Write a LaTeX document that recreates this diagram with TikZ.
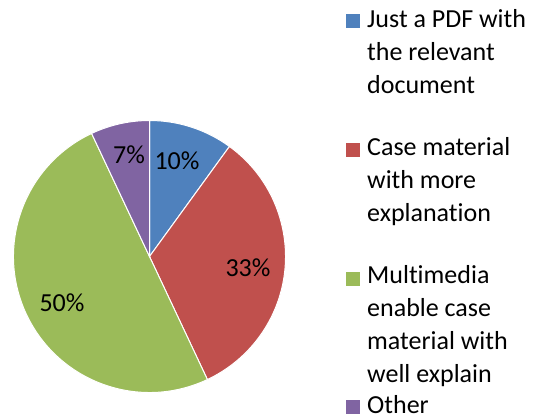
\documentclass[tikz,border=0pt]{standalone}
\usepackage{fontspec}
\setmainfont[Ligatures=NoCommon]{Carlito}
\definecolor{pieblue}{HTML}{4F81BD}
\definecolor{piered}{HTML}{C0504D}
\definecolor{piegreen}{HTML}{9BBB59}
\definecolor{piepurple}{HTML}{8064A2}
\tikzset{
  slice/.style={draw=white, line width=1pt},
  pct/.style={anchor=base, inner sep=0pt, font=\fontsize{26}{33}\selectfont},
  keybox/.style={minimum size=14pt, inner sep=0pt, anchor=south west},
  keytext/.style={anchor=base west, inner sep=0pt, align=left, font=\fontsize{26}{33}\selectfont}
}
\begin{document}
\begin{tikzpicture}[x=1pt,y=1pt]
                \useasboundingbox (0,0) rectangle (541,419);
                \coordinate (c) at (149.5,162.5);
                % pie slices, clockwise from the top
                \filldraw[slice, fill=pieblue] (c) -- ++(90:136) arc (90:54:136) -- cycle;
                \filldraw[slice, fill=piered] (c) -- ++(54:136) arc (54:-64.8:136) -- cycle;
                \filldraw[slice, fill=piegreen] (c) -- ++(-64.8:136) arc (-64.8:-244.8:136) -- cycle;
                \filldraw[slice, fill=piepurple] (c) -- ++(115.2:136) arc (115.2:90:136) -- cycle;
                \node[pct] (p10) at (177,249) {10\%};
                \node[pct] (p33) at (248,142) {33\%};
                \node[pct] (p50) at (62,107) {50\%};
                \node[pct] (p7) at (129,255) {7\%};
                % legend (text nodes sit on their last line)
                \node[keybox, fill=pieblue] (k1) at (346,391) {};
                \node[keytext] (t1) at (367,325) {Just a PDF with\\the relevant\\document};
                \node[keybox, fill=piered] (k2) at (346,262) {};
                \node[keytext] (t2) at (367,197) {Case material\\with more\\explanation};
                \node[keybox, fill=piegreen] (k3) at (346,133) {};
                \node[keytext] (t3) at (367,36) {Multimedia\\enable case\\material with\\well explain};
                \node[keybox, fill=piepurple] (k4) at (346,5) {};
                \node[keytext] (t4) at (367,5) {Other};
            \end{tikzpicture}
\end{document}
